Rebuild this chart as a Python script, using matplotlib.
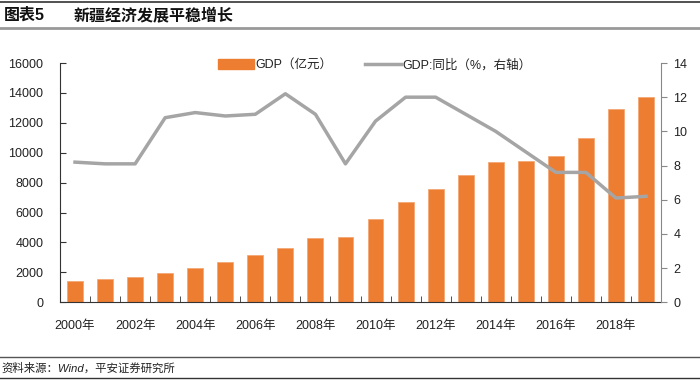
import matplotlib
matplotlib.use("Agg")
import matplotlib.pyplot as plt
from matplotlib.patches import Patch
from matplotlib.lines import Line2D

plt.rcParams['font.family'] = ['Liberation Sans', 'Noto Sans CJK SC', 'DejaVu Sans']

years = list(range(2000, 2020))
gdp = [1440, 1550, 1710, 1960, 2280, 2700, 3130, 3600, 4270, 4340, 5540,
       6700, 7600, 8530, 9400, 9470, 9760, 10980, 12900, 13730]
growth = [8.2, 8.1, 8.1, 10.8, 11.1, 10.9, 11.0, 12.2, 11.0, 8.1, 10.6,
          12.0, 12.0, 11.0, 10.0, 8.8, 7.6, 7.6, 6.1, 6.2]
xlabels = [f"{y}年" if (y % 2 == 0) else "" for y in years]

title_num = "图表5"
title_text = "新疆经济发展平稳增长"
source = "资料来源：Wind，平安证券研究所"
bar_label = "GDP（亿元）"
line_label = "GDP:同比（%，右轴）"

orange = "#ED7D31"
gray = "#A5A5A5"

fig = plt.figure(figsize=(7, 3.81), dpi=100)
ax = fig.add_axes([60/700, 1-302.3/381, (661-60)/700, (302.3-63)/381])
ax2 = ax.twinx()

x = list(range(len(years)))
ax.bar(x, gdp, width=0.53, color=orange, edgecolor="#F4A877", linewidth=0.6, zorder=2)
ax2.plot(x, growth, color=gray, linewidth=2.5, zorder=3)

ax.set_xlim(-0.5, len(years) - 0.5)
ax.set_ylim(0, 16000)
ax.set_yticks(range(0, 16001, 2000))
ax2.set_ylim(0, 14)
ax2.set_yticks(range(0, 15, 2))

ax.set_xticks(x)
ax.set_xticklabels(xlabels, fontsize=9, color="#222222")
ax.tick_params(axis='x', length=0, pad=13)
ax.set_xticks([i + 0.5 for i in x[:-1]], minor=True)
ax.tick_params(axis='x', which='minor', direction='in', length=4, color="#333333")

ax.tick_params(axis='y', direction='in', length=4, pad=12, labelsize=9, labelcolor="#222222", color="#333333")
ax2.tick_params(axis='y', direction='out', length=4, pad=5, labelsize=9, labelcolor="#222222", color="#888888")

for s in ['top']:
    ax.spines[s].set_visible(False)
    ax2.spines[s].set_visible(False)
ax.spines['right'].set_visible(False)
ax2.spines['left'].set_visible(False)
ax2.spines['bottom'].set_visible(False)
ax.spines['left'].set_color("#333333")
ax.spines['bottom'].set_color("#333333")
ax2.spines['right'].set_color("#888888")

handles = [Patch(facecolor=orange, edgecolor=orange),
           Line2D([0], [0], color=gray, linewidth=2.5)]
fig.legend(handles, [bar_label, line_label], loc='center', bbox_to_anchor=(0.535, 1-65/381),
           ncol=2, frameon=False, fontsize=9, handlelength=2.9, handleheight=0.8,
           columnspacing=2.6, handletextpad=0.1, labelcolor="#222222")

# header and footer rules
fig.add_artist(Line2D([0, 1], [1-2/381, 1-2/381], color="#333333", linewidth=1.2))
fig.add_artist(Line2D([0, 1], [1-28/381, 1-28/381], color="#999999", linewidth=2))
fig.add_artist(Line2D([0, 1], [1-357/381, 1-357/381], color="#555555", linewidth=1))
fig.add_artist(Line2D([0, 1], [1-378/381, 1-378/381], color="#333333", linewidth=1))

fig.text(4/700, 1-15/381, title_num, fontsize=11.5, fontweight='bold', va='center', color="#111111")
fig.text(74/700, 1-15/381, title_text, fontsize=11.5, fontweight='bold', va='center', color="#111111")
fig.text(1/700, 1-368/381, source, fontsize=8.2, style='italic', va='center', color="#222222")

fig.savefig("out.png", dpi=100)
